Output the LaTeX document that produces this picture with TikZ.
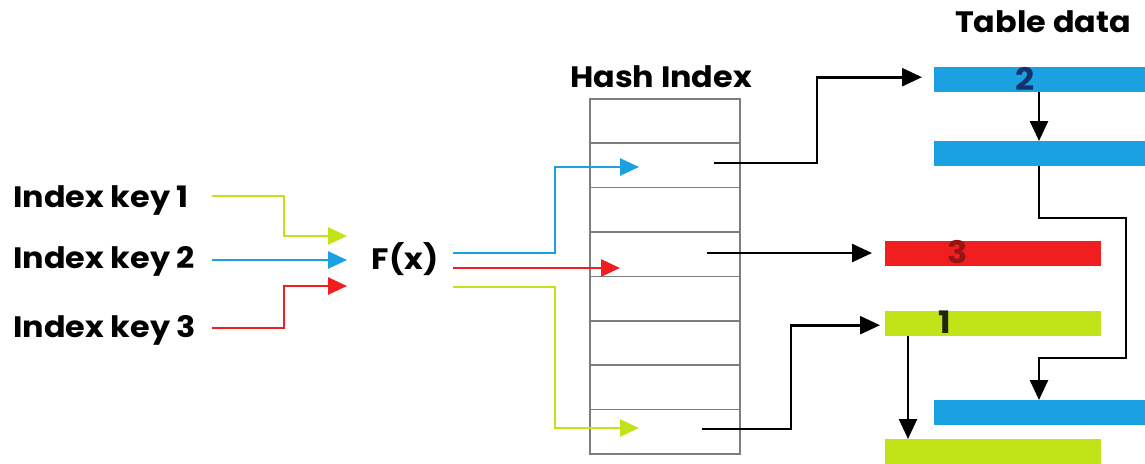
\documentclass[tikz,border=0pt]{standalone}
\usepackage{fontspec}
\setmainfont{Poppins}[FakeStretch=1.08]
\usetikzlibrary{arrows.meta}
\definecolor{cblue}{RGB}{27,161,226}
\definecolor{cred}{RGB}{240,30,30}
\definecolor{cgreen}{RGB}{192,228,24}
\definecolor{hgray}{RGB}{125,125,125}
\begin{document}
\begin{tikzpicture}[x=1pt,y=-1pt,
  lbl/.style={font=\bfseries\fontsize{29.5}{30}\selectfont, inner sep=0pt},
  num/.style={font=\bfseries\fontsize{31}{31}\selectfont, inner sep=0pt, anchor=base},
  bar/.style={inner sep=0pt, minimum height=25pt, anchor=north west, draw=none},
  hrow/.style={draw=hgray, line width=1.6pt, minimum width=150pt, minimum height=44.4pt, inner sep=0pt, anchor=north west},
  cline/.style={line width=2.6pt, -{Triangle[length=19pt,width=17pt]}},
  blk/.style={line width=2.6pt, black, -{Triangle[length=20pt,width=18pt]}}]
\useasboundingbox (0,0) rectangle (1145,463);

% titles
\node[lbl, anchor=base] (thash) at (661,87) {Hash Index};
\node[lbl, anchor=base] (ttab) at (1043,32) {Table data};

% left keys
\node[lbl, anchor=base west] (k1) at (13,207) {Index key 1};
\node[lbl, anchor=base west] (k2) at (13,268) {Index key 2};
\node[lbl, anchor=base west] (k3) at (13,337) {Index key 3};
\node[lbl, anchor=base] (fx) at (405,269) {F(x)};

% hash index rows
\foreach \i in {1,...,8} {
  \node[hrow] (h\i) at (589,{98+(\i-1)*44.4}) {};
}

% table bars
\node[bar, fill=cblue, minimum width=212pt] (t1) at (934,67) {};
\node[bar, fill=cblue, minimum width=212pt] (t2) at (934,141) {};
\node[bar, fill=cred, minimum width=216pt] (t3) at (885,241) {};
\node[bar, fill=cgreen, minimum width=216pt] (t4) at (885,311) {};
\node[bar, fill=cblue, minimum width=212pt] (t5) at (934,400) {};
\node[bar, fill=cgreen, minimum width=216pt, minimum height=30pt] (t6) at (885,439) {};
\node[num, text={rgb,255:red,20;green,50;blue,110}] (n2) at (1025,90) {2};
\node[num, text={rgb,255:red,150;green,20;blue,20}] (n3) at (958,263) {3};
\node[num, text={rgb,255:red,30;green,40;blue,10}] (n1) at (945,333) {1};

% coordinates
\coordinate (a1) at (212,196);
\coordinate (a2) at (212,260);
\coordinate (a3) at (212,328);
\coordinate (e1) at (347,236);
\coordinate (e2) at (347,260);
\coordinate (e3) at (347,286);
\coordinate (o1) at (453,253);
\coordinate (o2) at (453,268);
\coordinate (o3) at (453,287);
\coordinate (p1) at (639,167);
\coordinate (p2) at (620,268);
\coordinate (p3) at (639,428);
\coordinate (s2) at (714,163);
\coordinate (s4) at (707,253);
\coordinate (s8) at (702,429);

% left colored arrows
\draw[cline, cgreen] (a1) -| (284,236) -- (e1);
\draw[cline, cblue] (a2) -- (e2);
\draw[cline, cred] (a3) -| (284,286) -- (e3);

% F(x) to hash
\draw[cline, cblue] (o1) -| (555,253) |- (p1);
\draw[cline, cred] (o2) -- (p2);
\draw[cline, cgreen] (o3) -- (555,287) |- (p3);

% hash to table
\draw[blk] (s2) -- (817,163) |- ([xshift=-12pt,yshift=2.5pt]t1.west);
\draw[blk, shorten >=13pt] (s4) -- (s4 -| t3.west);
\draw[blk] (s8) -- (791,429) |- ([xshift=-5pt,yshift=-1.5pt]t4.west);

% table chains
\draw[blk] ([xshift=105pt]t1.south west) -- ([xshift=105pt]t2.north west);
\draw[blk] ([xshift=105pt]t2.south west) |- (1126,218) |- (1039,358) -- ([xshift=105pt]t5.north west);
\draw[blk] ([xshift=23pt]t4.south west) -- ([xshift=23pt]t6.north west);
\end{tikzpicture}
\end{document}
